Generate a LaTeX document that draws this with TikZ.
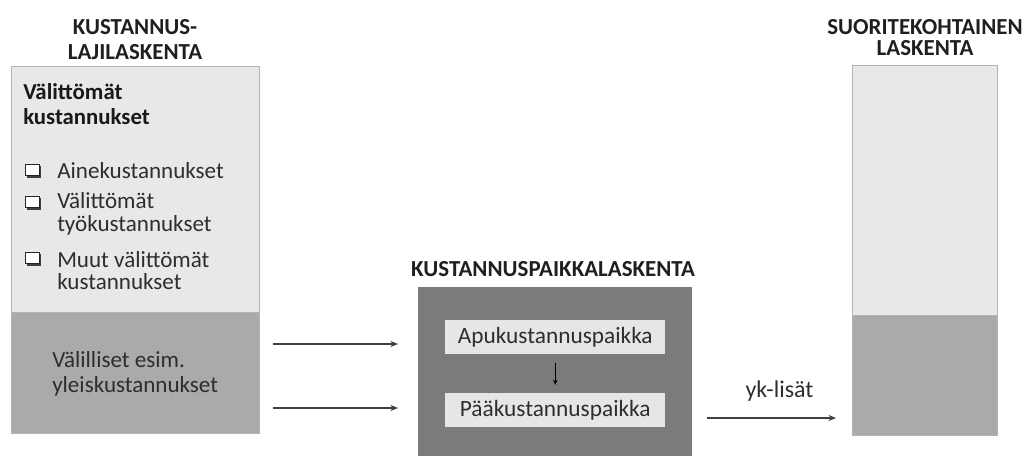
\documentclass[tikz,border=0pt]{standalone}
\usepackage{fontspec}
\setmainfont{Carlito}
\usetikzlibrary{positioning,arrows.meta,shadows}
\definecolor{lightbox}{HTML}{E9E7EA}
\definecolor{midbox}{HTML}{ABA9A9}
\definecolor{darkbox}{HTML}{7B7B7B}
\definecolor{innerbox}{HTML}{E6E6E6}
\definecolor{edgegray}{HTML}{B4B3BA}
\tikzset{
  calcbox/.style={draw=edgegray, line width=0.8pt, inner sep=0pt, anchor=north west},
  calctitle/.style={font=\fontsize{17.2}{18.75}\selectfont\bfseries, align=center, text=black!88},
  calctext/.style={font=\fontsize{17.3}{17}\selectfont, align=left, text=black!82, anchor=west, inner sep=0pt},
  calcarrow/.style={-{Stealth[length=2mm, width=1.6mm]}, line width=1pt, black!75},
  checkbox/.style={draw=black!85, line width=0.9pt, fill=white, minimum width=10.5pt, minimum height=8.5pt, inner sep=0pt,
    drop shadow={shadow xshift=1.2pt, shadow yshift=-1.4pt, fill=black!75, opacity=1}},
}

\begin{document}
\begin{tikzpicture}[x=0.75pt, y=-0.75pt]
  \useasboundingbox (0,0) rectangle (1024,456);
  % kustannuslajilaskenta
  \node[calctitle] (lajittl) at (135,40) {KUSTANNUS-\\LAJILASKENTA};
  \node[calcbox, fill=lightbox, minimum width=186pt, minimum height=184.5pt] (direct) at (11,66) {};
  \node[calcbox, fill=midbox, minimum width=186pt, minimum height=90.75pt] (indirect) at (11,312) {};
  \node[calctext, font=\fontsize{17.1}{18.75}\selectfont\bfseries, text=black!90] (dirhead) at (23,104.5) {Välittömät\\kustannukset};
  \node[checkbox] (cb1) at (32.5,170) {};
  \node[checkbox] (cb2) at (32.5,202) {};
  \node[checkbox] (cb3) at (32.5,258) {};
  \node[calctext] (aine) at (57,171) {Ainekustannukset};
  \node[calctext] (tyo) at (57,214) {Välittömät\\työkustannukset};
  \node[calctext] (muut) at (57,270.5) {Muut välittömät\\kustannukset};
  \node[calctext, font=\fontsize{17.3}{18.75}\selectfont] (indtext) at (52,374) {Välilliset esim.\\yleiskustannukset};
  % kustannuspaikkalaskenta
  \node[calctitle] (paikttl) at (553,269) {KUSTANNUSPAIKKALASKENTA};
  \node[anchor=north west, fill=darkbox, inner sep=0pt, minimum width=205.5pt, minimum height=130pt] (paikka) at (418,287) {};
  \node[anchor=north west, fill=innerbox, inner sep=0pt, minimum width=165pt, minimum height=25.5pt, font=\fontsize{17.5}{17}\selectfont, text=black!82] (apu) at (445,320) {Apukustannuspaikka};
  \node[anchor=north west, fill=innerbox, inner sep=0pt, minimum width=165pt, minimum height=25.5pt, font=\fontsize{17.5}{17}\selectfont, text=black!82] (paa) at (445,393) {Pääkustannuspaikka};
  \draw[-{Stealth[length=1.4mm, width=1.2mm]}, line width=1pt, black, shorten <=6pt, shorten >=6pt] (apu) -- (paa);
  % suoritekohtainen laskenta
  \node[calctitle, font=\fontsize{17.2}{15.75}\selectfont\bfseries] (suorttl) at (925,38) {SUORITEKOHTAINEN\\LASKENTA};
  \node[calcbox, fill=lightbox, minimum width=108.75pt, minimum height=187.5pt] (suor) at (852,65) {};
  \node[calcbox, fill=midbox, minimum width=108.75pt, minimum height=90pt] (suorind) at (852,315) {};
  % nuolet
  \coordinate (in1) at (273,344);
  \coordinate (in2) at (273,408);
  \coordinate (out) at (707,418);
  \draw[calcarrow, shorten >=15pt] (in1) -- (paikka.west |- in1);
  \draw[calcarrow, shorten >=15pt] (in2) -- (paikka.west |- in2);
  \draw[calcarrow, shorten >=12pt] (out) -- node[calctext, font=\fontsize{18}{17}\selectfont, anchor=center, above=12pt] (yk) {yk-lisät} (suorind.west |- out);
\end{tikzpicture}
\end{document}
